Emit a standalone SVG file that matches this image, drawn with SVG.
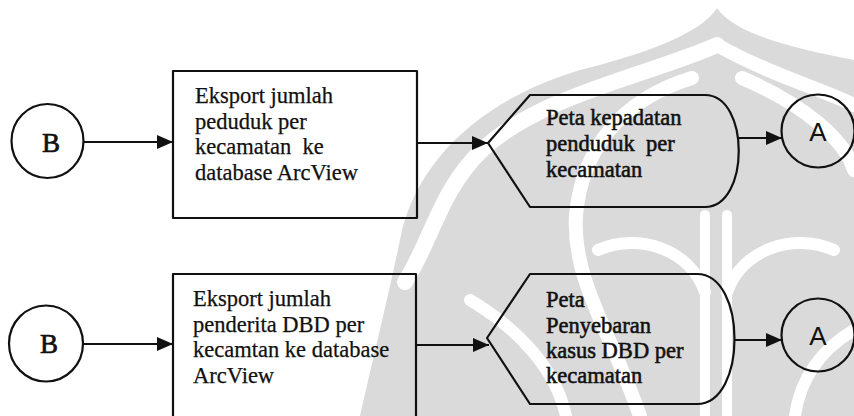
<svg xmlns="http://www.w3.org/2000/svg" width="854" height="416" viewBox="0 0 854 416">
  <defs>
    <marker id="arrow" viewBox="0 0 16 14" refX="16" refY="7" markerWidth="16" markerHeight="14" markerUnits="userSpaceOnUse" orient="auto">
      <path d="M0,0 L16,7 L0,14 Z" fill="#111"/>
    </marker>
  </defs>
  <style>
    .shape { fill: none; stroke: #111; stroke-width: 2.2; stroke-linejoin: round; }
    .edge { fill: none; stroke: #111; stroke-width: 2; marker-end: url(#arrow); }
    .label { font-family: "Liberation Serif", "Times New Roman", serif; font-size: 22.5px; fill: #111; white-space: pre; stroke: #111; stroke-width: 0.25; }
    .bold { stroke-width: 0.55; }
    .conn { font-family: "Liberation Serif", "Times New Roman", serif; font-size: 27px; fill: #111; text-anchor: middle; stroke: #111; stroke-width: 0.7; }
    .connA { font-family: "Liberation Sans", Arial, sans-serif; font-size: 26px; fill: #111; text-anchor: middle; }
    .wm { fill: #dadada; }
    .wm-cut { fill: none; stroke: #ffffff; stroke-linecap: round; }
  </style>

  <rect width="854" height="416" fill="#ffffff"/>

  <!-- faint emblem in the background -->
  <g id="emblem">
    <path class="wm" d="M717 8 C700 35 640 55 580 70 C480 100 420 160 402 230 C392 280 375 350 360 416 L854 416 L854 60 C800 50 735 35 717 8 Z"/>
    <path class="wm-cut" stroke-width="16" d="M717 45 C650 75 540 95 482 150 C440 190 432 240 405 282"/>
    <path class="wm-cut" stroke-width="14" d="M717 45 C770 75 830 92 854 105"/>
    <path class="wm-cut" stroke-width="14" d="M692 78 C620 100 582 150 576 215 C572 280 610 330 640 416"/>
    <path class="wm-cut" stroke-width="14" d="M742 78 C805 105 845 140 854 170"/>
    <path class="wm-cut" stroke-width="10" d="M705 215 L705 416 M727 215 L727 416"/>
    <path class="wm-cut" stroke-width="12" d="M598 250 C640 232 690 250 705 292"/>
    <path class="wm-cut" stroke-width="12" d="M834 250 C792 232 742 250 727 292"/>
    <path class="wm-cut" stroke-width="12" d="M470 300 C520 330 556 370 566 416"/>
    <path class="wm-cut" stroke-width="12" d="M854 330 C820 350 800 380 795 416"/>
  </g>

  <!-- connectors -->
  <g id="connectors">
    <line class="edge" x1="84" y1="142" x2="173" y2="142"/>
    <line class="edge" x1="417" y1="143" x2="488" y2="143"/>
    <line class="edge" x1="737" y1="138" x2="782" y2="138"/>
    <line class="edge" x1="83" y1="344" x2="173" y2="344"/>
    <line class="edge" x1="416" y1="345" x2="489" y2="345"/>
    <line class="edge" x1="735" y1="340" x2="782" y2="340"/>
  </g>

  <!-- top row -->
  <g id="connector-B1">
    <ellipse class="shape" cx="47.5" cy="141" rx="36" ry="37"/>
    <text class="conn" x="51" y="152">B</text>
  </g>

  <g id="export-population">
    <rect class="shape" x="173" y="71" width="244" height="147"/>
    <text class="label" x="195" y="103">Eksport jumlah</text>
    <text class="label" x="195" y="128.7">peduduk per</text>
    <text class="label" x="195" y="154.4">kecamatan  ke</text>
    <text class="label" x="195" y="180">database ArcView</text>
  </g>

  <g id="density-map">
    <path class="shape" d="M488 143 L530 95 L705 95 C750 95 750 207 705 207 L530 207 Z"/>
    <text class="label bold" x="546" y="125">Peta kepadatan</text>
    <text class="label bold" x="546" y="151">penduduk  per</text>
    <text class="label bold" x="546" y="177">kecamatan</text>
  </g>

  <g id="connector-A1">
    <circle class="shape" cx="818" cy="131" r="36.5"/>
    <text class="connA" x="818" y="141">A</text>
  </g>

  <!-- bottom row -->
  <g id="connector-B2">
    <ellipse class="shape" cx="46" cy="343.5" rx="37" ry="38"/>
    <text class="conn" x="49" y="353">B</text>
  </g>

  <g id="export-cases">
    <rect class="shape" x="173" y="274" width="243" height="150"/>
    <text class="label" x="193" y="306">Eksport jumlah</text>
    <text class="label" x="193" y="332">penderita DBD per</text>
    <text class="label" x="193" y="357">kecamtan ke database</text>
    <text class="label" x="193" y="383">ArcView</text>
  </g>

  <g id="spread-map">
    <path class="shape" d="M487 338 L530 274 L697 274 C747 274 747 404 697 404 L530 404 Z"/>
    <text class="label bold" x="546" y="307">Peta</text>
    <text class="label bold" x="546" y="333">Penyebaran</text>
    <text class="label bold" x="546" y="358">kasus DBD per</text>
    <text class="label bold" x="546" y="383">kecamatan</text>
  </g>

  <g id="connector-A2">
    <circle class="shape" cx="818" cy="335" r="36.5"/>
    <text class="connA" x="818" y="345">A</text>
  </g>
</svg>
